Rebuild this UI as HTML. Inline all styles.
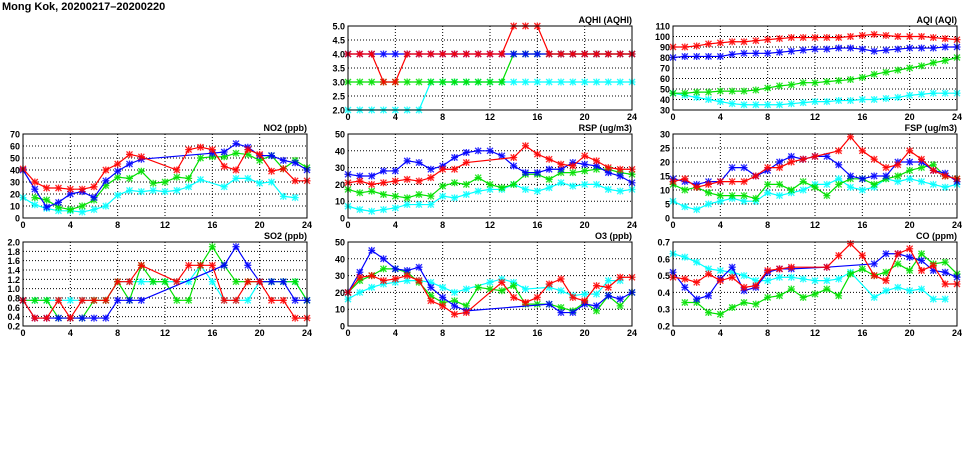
<!DOCTYPE html>
<html><head><meta charset="utf-8"><style>
body{margin:0;background:#fff;width:975px;height:447px;overflow:hidden}
svg{font-family:"Liberation Sans",sans-serif;font-weight:bold}
</style></head><body>
<svg id="c" width="975" height="447">
<text x="2" y="10" font-size="11">Mong Kok, 20200217–20200220</text>
</svg>
<script>
const hours=[0,1,2,3,4,5,6,7,8,9,10,11,12,13,14,15,16,17,18,19,20,21,22,23,24];
const n=null;
const no2Blue=[40,24,9,13,20,22,17,31,39,45,49,n,n,n,n,n,54,55,62,59,52,52,48,46,40];
const no2Red=[41,30,25,25,24,24,26,40,45,53,51,n,n,40,57,59,57,43,40,57,53,39,41,31,31];
const no2Green=[n,17,15,9,7,10,15,27,34,33,39,29,30,34,33,50,51,51,54,53,48,52,41,48,42];
const no2Cyan=[17,11,8,6,6,5,7,10,19,23,22,23,22,23,26,32,n,26,33,33,29,30,18,17,n];
const so2Blue=[.75,.37,.37,.37,.37,.37,.37,.37,.75,.75,.75,n,n,n,n,n,n,1.5,1.9,1.5,1.15,1.15,1.15,.75,.75];
const so2Red=[.75,.37,.37,.75,.37,.75,.75,.75,1.15,1.15,1.5,n,n,1.15,1.5,1.5,1.5,.75,.75,1.15,1.15,.75,.75,.37,.37];
const so2Green=[.75,.75,.75,.37,.37,.37,.75,.75,1.15,.75,1.5,1.15,1.15,.75,.75,1.5,1.9,1.5,1.15,1.15,1.15,1.15,1.15,1.15,.75];
const so2Cyan=[.75,.75,.75,.75,.75,.75,.75,.75,1.15,1.15,1.15,1.15,1.15,1.15,1.15,1.5,1.15,.75,.75,.75,1.15,1.15,1.15,1.15,.75];
const aqhiBlue=[4,4,4,4,4,4,4,4,4,4,4,4,4,4,4,4,4,4,4,4,4,4,4,4,4];
const aqhiRed=[4,4,4,3,3,4,4,4,4,4,4,4,4,4,5,5,5,4,4,4,4,4,4,4,4];
const aqhiGreen=[3,3,3,3,3,3,3,3,3,3,3,3,3,3,4,4,4,4,4,4,4,4,4,4,4];
const aqhiCyan=[2,2,2,2,2,2,2,3,3,3,3,3,3,3,3,3,3,3,3,3,3,3,3,3,3];
const aqiRed=[90,90,91,93,94,95,95,96,97,98,99,99,99,99,99,100,101,102,101,100,100,100,99,98,97];
const aqiBlue=[80,81,81,81,81,83,84,84,84,85,86,87,88,88,89,89,88,86,87,88,89,89,89,90,90];
const aqiGreen=[46,46,47,47,48,48,48,49,51,53,54,56,56,57,58,59,61,64,66,68,70,72,75,77,80];
const aqiCyan=[46,44,42,40,38,36,35,35,35,35,36,37,38,38,39,39,40,40,41,42,44,45,46,46,46];
const rspBlue=[26,25,25,28,28,34,33,29,31,36,39,40,40,37,31,27,27,29,29,33,32,31,27,25,21];
const rspRed=[21,22,20,21,22,23,22,24,29,29,33,n,n,n,36,43,38,35,32,31,37,34,30,29,29];
const rspGreen=[17,15,16,14,13,12,14,13,19,21,20,24,20,18,20,26,26,23,27,27,28,29,29,27,26];
const rspCyan=[7,5,4,5,6,8,8,8,13,12,14,16,17,17,20,17,16,18,21,19,20,20,17,16,17];
const fspBlue=[14,13,12,13,13,18,18,15,17,20,22,21,22,22,19,15,14,15,15,20,20,20,17,16,13];
const fspRed=[13,14,11,12,13,13,13,15,18,18,20,21,22,n,24,29,24,21,18,19,24,21,17,15,14];
const fspGreen=[12,10,11,9,8,8,8,7,12,12,10,13,11,8,12,14,14,12,14,15,17,18,19,15,14];
const fspCyan=[6,4,3,5,6,7,6,6,9,8,9,10,12,12,14,11,10,11,14,13,14,13,12,11,12];
const o3Blue=[20,32,45,40,34,33,35,23,17,12,9,n,n,n,n,n,n,13,8,8,13,12,18,16,20];
const o3Red=[20,29,30,27,28,30,27,15,12,7,8,n,n,26,17,14,17,25,28,17,15,24,23,29,29];
const o3Green=[20,27,30,34,34,32,26,18,14,15,12,23,22,21,24,13,13,13,11,9,14,9,18,12,20];
const o3Cyan=[16,20,23,25,26,27,27,26,23,20,22,n,26,28,26,22,n,23,21,18,19,19,27,27,n];
const coBlue=[.52,.43,.36,.38,.48,.55,.41,.43,.52,.54,.54,n,n,.55,n,n,n,.57,.63,.63,.61,.59,.53,.52,.49];
const coRed=[.49,.48,.46,.51,.47,.49,.43,.44,.53,.54,.55,n,n,.55,.62,.69,.62,.5,.47,.63,.66,.53,.56,.45,.45];
const coGreen=[n,.34,.34,.28,.27,.31,.34,.33,.37,.38,.42,.37,.39,.42,.38,.51,.54,.5,.52,.57,.53,.63,.57,.58,.51];
const coCyan=[.63,.61,.58,.54,.53,.52,.5,.47,.47,.49,.49,.48,.47,.47,.48,.52,n,.37,.41,.43,.41,.42,.36,.36,n];
const xTicks=[0,4,8,12,16,20,24];

const svg=document.getElementById('c');
const NS='http://www.w3.org/2000/svg';
function mk(t,a,p){const e=document.createElementNS(NS,t);for(const k in a)e.setAttribute(k,a[k]);(p||svg).appendChild(e);return e;}
const COL={cyan:'#00ffff',green:'#00e000',blue:'#0000ff',red:'#ff0000'};
function panel(id,title,px,py,ymin,ymax,step,dec,series){
  const W=284,H=84;
  const g=mk('g',{});
  
  
  const xs=h=>px+h/24*W, ys=v=>py+H-(v-ymin)/(ymax-ymin)*H;
  const nT=Math.round((ymax-ymin)/step);
  for(let i=0;i<=nT;i++){const v=ymin+i*step,y=ys(v);
    if(i>0&&i<nT){const l=mk('line',{x1:px,x2:px+W,y1:y,y2:y,stroke:'#000','stroke-width':1,'stroke-dasharray':'1,2'},g);}
    const t=mk('text',{x:px-3,y:y+3.5,'font-size':9,'text-anchor':'end'},g);t.textContent=v.toFixed(dec);
    }
  xTicks.forEach(h=>{const x=xs(h);
    if(h>0&&h<24){const l=mk('line',{x1:x,x2:x,y1:py,y2:py+H,stroke:'#000','stroke-width':1,'stroke-dasharray':'1,2'},g);}
    const t=mk('text',{x:x,y:py+H+10,'font-size':9,'text-anchor':'middle'},g);t.textContent=h;
    });
  const tt=mk('text',{x:px+W,y:py-3,'font-size':9,'text-anchor':'end'},g);tt.textContent=title;
  
  series.forEach(([c,arr])=>{
    const pts=[];arr.forEach((v,i)=>{if(v!==null)pts.push([xs(hours[i]),ys(v)]);});
    const pl=mk('polyline',{points:pts.map(p=>p.join(',')).join(' '),fill:'none',stroke:COL[c],'stroke-width':1.2},g);
    
    pts.forEach(([x,y])=>{
      const m=mk('path',{d:`M${x-3},${y-3}L${x+3},${y+3}M${x-3},${y+3}L${x+3},${y-3}M${x-3.5},${y}L${x+3.5},${y}M${x},${y-3.5}L${x},${y+3.5}`,stroke:COL[c],'stroke-width':1.3,'stroke-opacity':0.85},g);
      });
  });
  const fr=mk('rect',{x:px,y:py,width:W,height:H,fill:'none',stroke:'#000','stroke-width':1},g);
  
}
const C=[23,348,673],R=[26,134,242];
panel('aqhi','AQHI (AQHI)',C[1],R[0],2,5,0.5,1,[['cyan',aqhiCyan],['green',aqhiGreen],['blue',aqhiBlue],['red',aqhiRed]]);
panel('aqi','AQI (AQI)',C[2],R[0],30,110,10,0,[['cyan',aqiCyan],['green',aqiGreen],['blue',aqiBlue],['red',aqiRed]]);
panel('no2','NO2 (ppb)',C[0],R[1],0,70,10,0,[['cyan',no2Cyan],['green',no2Green],['blue',no2Blue],['red',no2Red]]);
panel('rsp','RSP (ug/m3)',C[1],R[1],0,50,10,0,[['cyan',rspCyan],['green',rspGreen],['blue',rspBlue],['red',rspRed]]);
panel('fsp','FSP (ug/m3)',C[2],R[1],0,30,5,0,[['cyan',fspCyan],['green',fspGreen],['blue',fspBlue],['red',fspRed]]);
panel('so2','SO2 (ppb)',C[0],R[2],0.2,2.0,0.2,1,[['cyan',so2Cyan],['green',so2Green],['blue',so2Blue],['red',so2Red]]);
panel('o3','O3 (ppb)',C[1],R[2],0,50,10,0,[['cyan',o3Cyan],['green',o3Green],['blue',o3Blue],['red',o3Red]]);
panel('co','CO (ppm)',C[2],R[2],0.2,0.7,0.1,1,[['cyan',coCyan],['green',coGreen],['blue',coBlue],['red',coRed]]);
</script>
</body></html>
